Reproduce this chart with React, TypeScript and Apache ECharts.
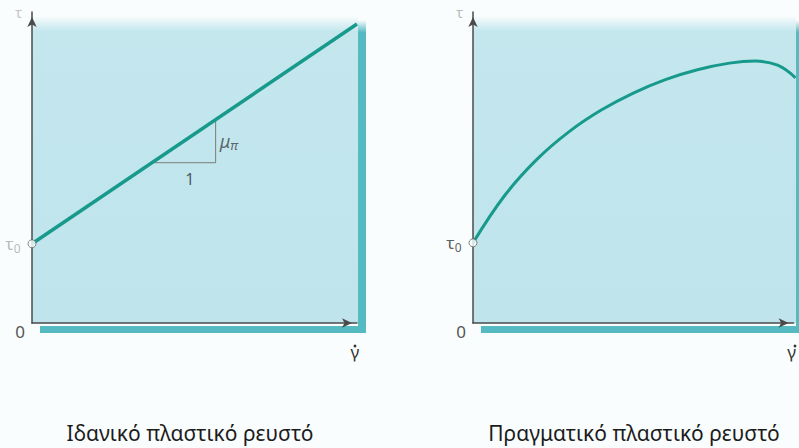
import React, { useEffect, useRef } from "react";
import * as echarts from "echarts";

// Shear stress τ against shear rate γ̇ for two plastic fluids (arbitrary units)
const idealLine: number[][] = [
  [0, 26.5],
  [100, 100],
];
// slope triangle under the ideal line: run of 1, rise of μπ
const slopeTriangle: number[][] = [
  [37, 53.6],
  [56.5, 53.6],
  [56.5, 68],
];
const realCurve: number[][] = [
  [0, 26.8],
  [10, 42.8],
  [20, 54.8],
  [30, 64],
  [40, 71.2],
  [50, 76.9],
  [60, 81.4],
  [70, 84.7],
  [80, 86.9],
  [88, 87.6],
  [95, 86.2],
  [100.6, 82],
];
const captions = ["Ιδανικό πλαστικό ρευστό", "Πραγματικό πλαστικό ρευστό"];
const xMax = 100;
const yMax = 104;

const TEAL = "#17998b";
const PANEL = "#bfe4ec";
const SHADOW = "#55bac2";
const AXIS = "#4a4a4a";
const FONT = "'Noto Sans', 'DejaVu Sans', sans-serif";

// pixel layout of the two plots
const W = 799;
const H = 448;
const plots = [
  { left: 32, top: 12, width: 325, height: 311 },
  { left: 473, top: 12, width: 324, height: 311 },
];

function axisPair(i: number, tauColor: string) {
  const x = {
    gridIndex: i,
    type: "value",
    min: 0,
    max: xMax,
    interval: xMax,
    axisLine: {
      show: true,
      onZero: false,
      lineStyle: { color: AXIS, width: 1.5 },
      symbol: ["none", "arrow"],
      symbolSize: [7, 10],
      symbolOffset: [0, -5],
    },
    axisTick: { show: false },
    splitLine: { show: false },
    axisLabel: {
      formatter: (v: number) => (v === xMax ? "γ" : ""),
      fontFamily: FONT,
      fontSize: 17,
      color: "#333",
      margin: 20,
      padding: [0, 4, 0, 0],
      showMinLabel: true,
      showMaxLabel: true,
    },
  };
  const y = {
    gridIndex: i,
    type: "value",
    min: 0,
    max: yMax,
    interval: yMax / 2,
    name: "τ",
    nameLocation: "end",
    nameGap: 0,
    nameTextStyle: {
      color: tauColor,
      fontFamily: FONT,
      fontSize: 14,
      align: "right",
      verticalAlign: "middle",
      padding: [0, 10, 0, 0],
    },
    axisLine: {
      show: true,
      onZero: false,
      lineStyle: { color: AXIS, width: 1.5 },
      symbol: ["none", "arrow"],
      symbolSize: [7, 10],
      symbolOffset: [0, -5],
    },
    axisTick: { show: false },
    splitLine: { show: false },
    axisLabel: {
      formatter: (v: number) => (v === 0 ? "0" : ""),
      fontFamily: FONT,
      fontSize: 17,
      color: "#555",
      margin: 7,
      verticalAlign: "top",
      showMinLabel: true,
    },
  };
  return { x, y };
}

function panelGraphics(
  p: { left: number; top: number; width: number; height: number },
  right: number,
  barLeft: number
) {
  const panelTop = p.top + 4;
  const panelBottom = p.top + p.height;
  return [
    {
      type: "rect",
      z: -10,
      silent: true,
      shape: { x: p.left, y: panelTop, width: right - p.left, height: panelBottom - panelTop },
      style: {
        fill: new echarts.graphic.LinearGradient(0, 0, 0, 1, [
          { offset: 0, color: "rgba(191,228,236,0)" },
          { offset: 0.05, color: "#c4e7ee" },
          { offset: 1, color: PANEL },
        ]),
      },
    },
    {
      type: "rect",
      z: -9,
      silent: true,
      shape: { x: barLeft, y: panelBottom + 3, width: right + 8 - barLeft, height: 7 },
      style: { fill: SHADOW },
    },
    {
      type: "rect",
      z: -9,
      silent: true,
      shape: { x: right, y: panelTop + 4, width: 8, height: panelBottom + 10 - panelTop - 4 },
      style: {
        fill: new echarts.graphic.LinearGradient(0, 0, 0, 1, [
          { offset: 0, color: "rgba(85,186,194,0)" },
          { offset: 0.04, color: SHADOW },
          { offset: 1, color: SHADOW },
        ]),
      },
    },
    // the dot over γ (rate notation) under the end of the x axis
    {
      type: "circle",
      z: 10,
      silent: true,
      shape: { cx: p.left + p.width - 2, cy: panelBottom + 23, r: 1.4 },
      style: { fill: "#333" },
    },
  ];
}

export default function App() {
  const ref = useRef<HTMLDivElement>(null);

  useEffect(() => {
    document.body.style.margin = "0";
    if (!ref.current) return;
    const chart = echarts.init(ref.current, null, { renderer: "svg" });

    const a0 = axisPair(0, "#c4c4c4");
    const a1 = axisPair(1, "#b8b8b8");

    const baseMid = [(slopeTriangle[0][0] + slopeTriangle[1][0]) / 2, slopeTriangle[0][1]];
    const riseMid = [slopeTriangle[1][0], (slopeTriangle[1][1] + slopeTriangle[2][1]) / 2];

    const tauLabel = (color: string) => ({
      show: true,
      position: "left",
      distance: 7,
      formatter: "{t|τ}{s|0}",
      rich: {
        t: { fontFamily: FONT, fontSize: 17, color },
        s: { fontFamily: FONT, fontSize: 12, color, padding: [9, 0, 0, 0] },
      },
    });

    const caption = (text: string, x: number) => ({
      type: "text",
      x,
      y: 433,
      silent: true,
      style: {
        text,
        fontFamily: FONT,
        fontSize: 21,
        fill: "#1c1c1c",
        textAlign: "center",
        textVerticalAlign: "middle",
      },
    });

    chart.setOption({
      animation: false,
      backgroundColor: "#fafdfd",
      grid: plots.map((p) => ({ ...p, containLabel: false })),
      xAxis: [a0.x, a1.x],
      yAxis: [a0.y, a1.y],
      graphic: [
        ...panelGraphics(plots[0], plots[0].left + plots[0].width + 1, plots[0].left + 8),
        ...panelGraphics(plots[1], W - 3, plots[1].left + 8),
        caption(captions[0], 190),
        caption(captions[1], 634),
      ],
      series: [
        {
          name: "slope",
          type: "line",
          xAxisIndex: 0,
          yAxisIndex: 0,
          data: slopeTriangle,
          showSymbol: false,
          lineStyle: { color: "#7b7b7b", width: 1 },
          z: 2,
          silent: true,
        },
        {
          name: "ideal",
          type: "line",
          xAxisIndex: 0,
          yAxisIndex: 0,
          data: idealLine,
          showSymbol: false,
          lineStyle: { color: TEAL, width: 3.5 },
          z: 3,
          silent: true,
        },
        {
          name: "slope labels",
          type: "scatter",
          xAxisIndex: 0,
          yAxisIndex: 0,
          symbolSize: 0,
          silent: true,
          clip: false,
          data: [
            {
              value: baseMid,
              label: {
                show: true,
                position: "bottom",
                distance: 8,
                offset: [6, 0],
                formatter: "1",
                fontFamily: FONT,
                fontSize: 16,
                color: "#333",
              },
            },
            {
              value: riseMid,
              label: {
                show: true,
                position: "right",
                distance: 4,
                formatter: "{m|μ}{s|π}",
                rich: {
                  m: { fontFamily: FONT, fontSize: 18, fontStyle: "italic", color: "#444" },
                  s: { fontFamily: FONT, fontSize: 13, fontStyle: "italic", color: "#444", padding: [7, 0, 0, 0] },
                },
              },
            },
          ],
        },
        {
          name: "yield ideal",
          type: "scatter",
          xAxisIndex: 0,
          yAxisIndex: 0,
          clip: false,
          z: 5,
          symbol: "circle",
          symbolSize: 8,
          itemStyle: { color: "#ffffff", borderColor: "#666", borderWidth: 1 },
          data: [idealLine[0]],
          label: tauLabel("#a8a8a8"),
        },
        {
          name: "real",
          type: "line",
          xAxisIndex: 1,
          yAxisIndex: 1,
          data: realCurve,
          smooth: 0.4,
          showSymbol: false,
          lineStyle: { color: TEAL, width: 3 },
          z: 3,
          silent: true,
        },
        {
          name: "yield real",
          type: "scatter",
          xAxisIndex: 1,
          yAxisIndex: 1,
          clip: false,
          z: 5,
          symbol: "circle",
          symbolSize: 8,
          itemStyle: { color: "#ffffff", borderColor: "#666", borderWidth: 1 },
          data: [realCurve[0]],
          label: tauLabel("#333333"),
        },
      ],
    });

    return () => chart.dispose();
  }, []);

  return <div ref={ref} style={{ width: W, height: H }} />;
}
